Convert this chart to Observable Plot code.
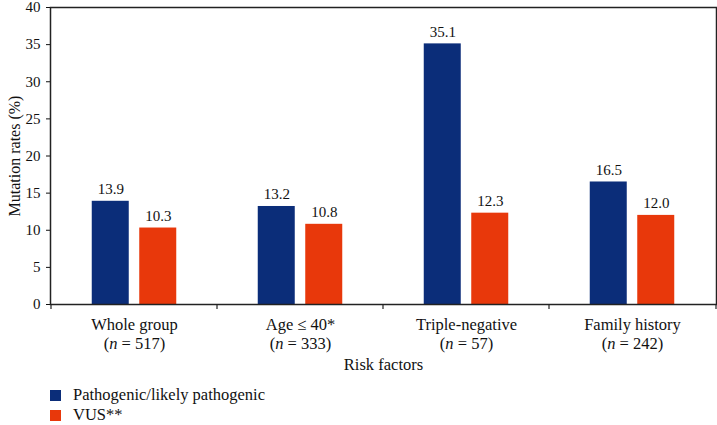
<!DOCTYPE html>
<html>
<head>
<meta charset="utf-8">
<script src="https://cdn.jsdelivr.net/npm/d3@7"></script>
<script src="https://cdn.jsdelivr.net/npm/@observablehq/plot@0.6"></script>
<style>
  body { margin: 0; background: #fff; font-family: "Liberation Serif", "DejaVu Serif", serif; }
  #legend { margin-left: 50px; margin-top: 5px; font-size: 16.5px; color: #111; }
  .row { display: flex; align-items: center; height: 20px; }
  .sw { width: 11px; height: 11px; margin-right: 12px; }
</style>
</head>
<body>
<div id="chart"></div>
<div id="legend"></div>
<script>
const groups = ["Whole group", "Age ≤ 40*", "Triple-negative", "Family history"];
const groupN = ["517", "333", "57", "242"];
const seriesNames = ["Pathogenic/likely pathogenic", "VUS**"];
const pathogenic = [13.9, 13.2, 35.1, 16.5];
const vus = [10.3, 10.8, 12.3, 12.0];
const colors = ["#0b2d79", "#e8380b"];
const yTicks = [0, 5, 10, 15, 20, 25, 30, 35, 40];

const W = 717, H = 380, ML = 50, MR = 1, MT = 7, MB = 76;
const band = (W - ML - MR) / groups.length;
const barW = 37.5, gap = 10;
const c = band / 2;

const rowsP = groups.map((g, i) => ({group: g, value: pathogenic[i]}));
const rowsV = groups.map((g, i) => ({group: g, value: vus[i]}));
const labels = groups.map((g, i) => ({group: g, text: g + "\n(n = " + groupN[i] + ")"}));

function boundaryTicks(index, scales, values, dims) {
  const x = scales.x;
  const y0 = dims.height - dims.marginBottom;
  const xs = groups.map(g => x(g));
  xs.push(dims.width - dims.marginRight);
  const g = d3.create("svg:g").attr("stroke", "#222").attr("stroke-width", 1.2);
  xs.forEach(v => g.append("line").attr("x1", v).attr("x2", v).attr("y1", y0).attr("y2", y0 + 5));
  return g.node();
}

const chart = Plot.plot({
  width: W, height: H,
  marginLeft: ML, marginRight: MR, marginTop: MT, marginBottom: MB,
  style: {fontFamily: "Liberation Serif, DejaVu Serif, serif", fontSize: "15px", color: "#111", background: "#fff"},
  x: {domain: groups, padding: 0, axis: null},
  y: {domain: [0, 40], ticks: yTicks, tickSize: 4, tickPadding: 6, label: null, tickFormat: d => String(d)},
  marks: [
    Plot.barY(rowsP, {x: "group", y: "value", fill: colors[0], insetLeft: c - gap / 2 - barW, insetRight: c + gap / 2}),
    Plot.barY(rowsV, {x: "group", y: "value", fill: colors[1], insetLeft: c + gap / 2, insetRight: c - gap / 2 - barW}),
    Plot.text(rowsP, {x: "group", y: "value", text: d => d.value.toFixed(1), dx: -(gap / 2 + barW / 2), dy: -7, lineAnchor: "bottom", fill: "#111"}),
    Plot.text(rowsV, {x: "group", y: "value", text: d => d.value.toFixed(1), dx: (gap / 2 + barW / 2), dy: -7, lineAnchor: "bottom", fill: "#111"}),
    Plot.text(labels, {x: "group", text: "text", frameAnchor: "bottom", lineAnchor: "top", dy: 11, lineHeight: 1.2, fontSize: 16.5, fill: "#111"}),
    Plot.text(["Risk factors"], {frameAnchor: "bottom", lineAnchor: "top", dy: 54, fontSize: 16.5, fill: "#111"}),
    Plot.text(["Mutation rates (%)"], {frameAnchor: "left", textAnchor: "middle", rotate: -90, dx: -36, fontSize: 16, fill: "#111"}),
    Plot.frame({stroke: "#222", strokeWidth: 1.5}),
    boundaryTicks
  ]
});
document.getElementById("chart").appendChild(chart);

// italic "n" in the sample-size lines
d3.select(chart).selectAll("tspan").each(function() {
  const t = this.textContent;
  const m = t.match(/^\(n = (.*)\)$/);
  if (m) {
    const s = d3.select(this);
    s.text("(");
    s.append("tspan").attr("font-style", "italic").text("n");
    s.append("tspan").text(" = " + m[1] + ")");
  }
});

const legend = d3.select("#legend");
seriesNames.forEach((name, i) => {
  const r = legend.append("div").attr("class", "row");
  r.append("div").attr("class", "sw").style("background", colors[i]);
  r.append("span").text(name);
});
</script>
</body>
</html>
